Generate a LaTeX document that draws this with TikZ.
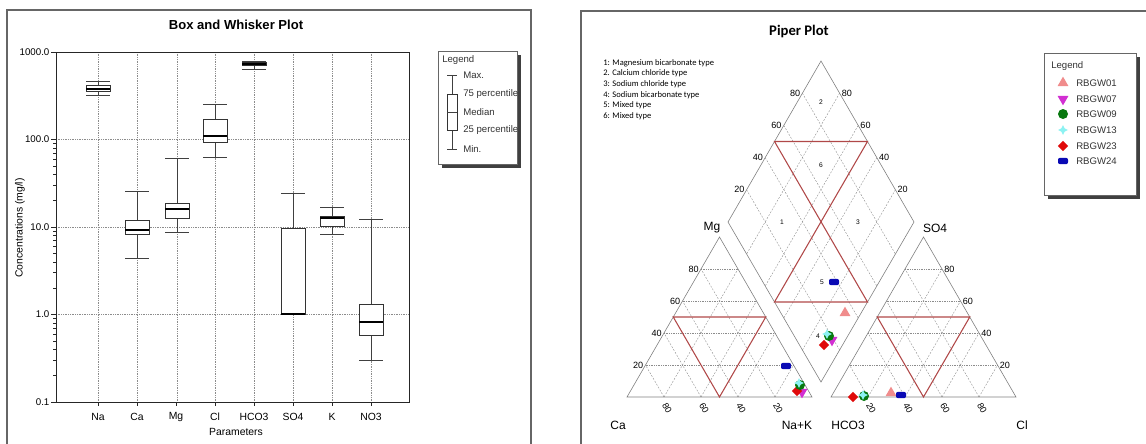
\documentclass[tikz,border=0pt]{standalone}
\usepackage{fontspec}
\setmainfont{Liberation Sans}
\newfontfamily\calib{Carlito}
\usetikzlibrary{calc,shapes.geometric}

\definecolor{piperred}{HTML}{B04848}
\definecolor{c01}{HTML}{F08C8C}
\definecolor{c07}{HTML}{D22FD2}
\definecolor{c09}{HTML}{08780F}
\definecolor{c13}{HTML}{8CF2F2}
\definecolor{c23}{HTML}{E00A0A}
\definecolor{c24}{HTML}{0A0AB4}

% x, max, q3, median, q1, min (pixel rows)
\newcommand{\bwbox}[6]{%
  \draw[whisk] (#1-12,#2) -- (#1+12,#2) (#1,#2) -- (#1,#3) (#1,#5) -- (#1,#6) (#1-12,#6) -- (#1+12,#6);
  \draw[bxs] (#1-12,#3) rectangle (#1+12,#5);
  \draw[med] (#1-12,#4) -- (#1+12,#4);}

\begin{document}
\begin{tikzpicture}[x=0.75pt,y=-0.75pt,
  panel/.style={draw=black!60,line width=1.1pt},
  grd/.style={draw=black!45,dash pattern=on 0.5pt off 0.8pt,line width=0.4pt},
  ax/.style={draw=black!85,line width=0.7pt},
  whisk/.style={draw=black!75,line width=0.6pt},
  bxs/.style={draw=black!80,fill=white,line width=0.6pt},
  med/.style={draw=black,line width=1.1pt},
  ticklbl/.style={font=\fontsize{7.3}{8}\selectfont,anchor=east,inner sep=1pt},
  catlbl/.style={font=\fontsize{7.8}{9}\selectfont},
  legtxt/.style={font=\fontsize{7.2}{8}\selectfont,anchor=west,inner sep=0pt,text=black!80},
  legshadow/.style={fill=black!75,draw=none},
  legbox/.style={draw=black!60,fill=white,line width=0.5pt},
  outl/.style={draw=black!50,line width=0.45pt},
  dgrid/.style={draw=black!45,dash pattern=on 1.4pt off 1.1pt,line width=0.3pt},
  hgrid/.style={draw=black!45,dash pattern=on 0.5pt off 0.8pt,line width=0.35pt},
  redl/.style={draw=piperred,line width=0.8pt},
  pct/.style={font=\fontsize{6.8}{7}\selectfont,inner sep=1.5pt},
  zone/.style={font=\fontsize{5}{6}\selectfont,inner sep=0pt},
  corner/.style={font=\fontsize{9}{10}\selectfont},
  note/.style={font=\calib\fontsize{6.4}{7}\selectfont,anchor=west,inner sep=0pt},
  mk/.style={inner sep=0pt,draw=none},
  s01/.style={mk,regular polygon,regular polygon sides=3,minimum size=9.5pt,fill=c01},
  s07/.style={mk,regular polygon,regular polygon sides=3,shape border rotate=180,minimum size=9.5pt,fill=c07},
  s09/.style={mk,circle,minimum size=7.5pt,fill=c09},
  s13/.style={mk,star,star points=4,star point ratio=2.2,minimum size=7.5pt,fill=c13},
  s23/.style={mk,diamond,minimum size=8pt,fill=c23},
  s24/.style={mk,rectangle,rounded corners=1.5pt,minimum width=7.5pt,minimum height=4.8pt,fill=c24}]

\useasboundingbox (0,0) rectangle (1146,443);
\clip (0,0) rectangle (1146,443);

% ---------------- box and whisker plot ----------------
\draw[panel] (7,10) rectangle (531,470);
\node[font=\bfseries\fontsize{9.8}{11}\selectfont] (bwtitle) at (236,25) {Box and Whisker Plot};

\foreach \cx in {98,137,177,215,254,293,332,371}
  \draw[grd] (\cx,52) -- (\cx,402);
\foreach \gy in {139,227,314}
  \draw[grd] (56,\gy) -- (409,\gy);
\draw[ax] (56,52) rectangle (409,402);

% log ticks
\foreach \d in {0,1,2}
  \foreach \m in {2,...,9}
    \draw[ax,line width=0.4pt] (56,{402-87.5*(\d+log10(\m))}) -- ++(-3,0);
\foreach \v [count=\i from 0] in {0.1,1.0,10.0,100.0,1000.0} {
  \draw[ax] (56,{402-87.5*\i}) -- ++(-5,0);
  \node[ticklbl] (yt\i) at (51,{402-87.5*\i}) {\v};
}
\foreach \nm [count=\i from 0] in {Na,Ca,Mg,Cl,HCO3,SO4,K,NO3} {
  \pgfmathsetmacro\cx{98+39.0*\i}
  \draw[ax,line width=0.5pt] (\cx,402) -- ++(0,4);
  \node[catlbl] (cat\i) at (\cx,417) {\nm};
}
\node[catlbl] (xlab) at (236,432) {Parameters};
\node[catlbl,rotate=90] (ylab) at (20,228) {Concentrations (mg/l)};

\bwbox{98}{81}{85}{89}{91}{95}
\bwbox{137}{191}{220}{230}{234}{258}
\bwbox{177}{158}{203}{209}{218}{232}
\bwbox{215}{104}{119}{136}{142}{157}
\bwbox{254}{61}{62}{64}{65}{69}
\bwbox{293}{193}{228}{314}{314}{314}
\bwbox{332}{207}{216}{218}{226}{234}
\bwbox{371}{219}{304}{322}{335}{360}

% legend
\fill[legshadow] (442,55) rectangle (521,168);
\draw[legbox] (438,51) rectangle (517,164);
\begin{scope}
  \clip (438,51) rectangle (517,164);
  \node[legtxt] (bwleg) at (442,60) {Legend};
  \draw[whisk] (447,75) -- (457,75) (452,75) -- (452,94) (452,130) -- (452,149) (447,149) -- (457,149);
  \draw[bxs] (447,94) rectangle (457,130);
  \draw[whisk] (447,112) -- (457,112);
  \foreach \t/\y in {Max./75,75 percentile/94,Median/112,25 percentile/130,Min./149}
    \node[legtxt] (bw\y) at (463,\y) {\t};
\end{scope}

% ---------------- piper plot ----------------
\draw[panel] (581,11) rectangle (1170,470);
\node[font=\calib\bfseries\fontsize{11}{12}\selectfont] (pptitle) at (799,32) {Piper Plot};
\foreach \t [count=\i] in {1: Magnesium bicarbonate type,2. Calcium chloride type,3: Sodium chloride type,4: Sodium bicarbonate type,5: Mixed type,6: Mixed type}
  \node[note] (note\i) at (603,{52.5+10.6*\i}) {\t};

\coordinate (dT) at (821,61);
\coordinate (dL) at (728,222);
\coordinate (dR) at (914,222);
\coordinate (dB) at (821,382);
\coordinate (ca) at (627,397);
\coordinate (nak) at (812,397);
\coordinate (mg) at (719.5,237);
\coordinate (hco) at (831,397);
\coordinate (cl) at (1016,397);
\coordinate (so) at (923.5,237);

\foreach \f/\v in {0.2/80,0.4/60,0.6/40,0.8/20} {
  \pgfmathsetmacro\g{1-\f}
  \draw[dgrid] ($(dT)!\f!(dL)$) -- ($(dR)!\f!(dB)$);
  \draw[dgrid] ($(dT)!\f!(dR)$) -- ($(dL)!\f!(dB)$);
  \draw[hgrid] ($(ca)!\f!(mg)$) -- ($(nak)!\f!(mg)$);
  \draw[dgrid] ($(ca)!\f!(nak)$) -- ($(nak)!\g!(mg)$);
  \draw[dgrid] ($(ca)!\f!(nak)$) -- ($(ca)!\f!(mg)$);
  \draw[hgrid] ($(hco)!\f!(so)$) -- ($(cl)!\f!(so)$);
  \draw[dgrid] ($(hco)!\f!(cl)$) -- ($(cl)!\g!(so)$);
  \draw[dgrid] ($(hco)!\f!(cl)$) -- ($(hco)!\f!(so)$);
  \node[pct,anchor=east] (dl\v) at ($(dT)!\f!(dL)$) {\v};
  \node[pct,anchor=west] (dr\v) at ($(dT)!\f!(dR)$) {\v};
  \node[pct,anchor=east] (mgl\v) at ($(ca)!\g!(mg)$) {\v};
  \node[pct,anchor=west] (sol\v) at ($(cl)!\g!(so)$) {\v};
  \node[pct,inner sep=0pt,rotate=-60] (cal\v) at ($(nak)!\g!(ca)+(3,11)$) {\v};
  \node[pct,inner sep=0pt,rotate=-60] (cll\v) at ($(hco)!\g!(cl)+(3,11)$) {\v};
}

\draw[outl] (dT) -- (dR) -- (dB) -- (dL) -- cycle;
\draw[outl] (ca) -- (nak) -- (mg) -- cycle;
\draw[outl] (hco) -- (cl) -- (so) -- cycle;

\draw[redl] ($(dT)!0.5!(dL)$) -- ($(dT)!0.5!(dR)$) -- ($(dL)!0.5!(dB)$) -- ($(dR)!0.5!(dB)$) -- cycle;
\draw[redl] ($(ca)!0.5!(mg)$) -- ($(nak)!0.5!(mg)$) -- ($(ca)!0.5!(nak)$) -- cycle;
\draw[redl] ($(hco)!0.5!(so)$) -- ($(cl)!0.5!(so)$) -- ($(hco)!0.5!(cl)$) -- cycle;

\node[zone] (z2) at (821,102) {2};
\node[zone] (z6) at (821,165) {6};
\node[zone] (z1) at (782,222) {1};
\node[zone] (z3) at (858,222) {3};
\node[zone] (z5) at (822,282) {5};
\node[zone] (z4) at (818,336) {4};

\node[corner] (lbmg) at (712,228) {Mg};
\node[corner] (lbso) at (935,228) {SO4};
\node[corner] (lbca) at (618,425) {Ca};
\node[corner] (lbnak) at (797,425) {Na+K};
\node[corner] (lbhco) at (848,425) {HCO3};
\node[corner] (lbcl) at (1022,425) {Cl};

% samples
\node[s24] (p24a) at (786,366) {};
\node[s07] (p07a) at (802,392) {};
\node[s23] (p23a) at (797,391) {};
\node[s09] (p09a) at (800,385) {};
\node[s13] (p13a) at (799,383) {};

\node[s24] (p24b) at (834,282) {};
\node[s01] (p01b) at (845,313) {};
\node[s07] (p07b) at (832,340) {};
\node[s23] (p23b) at (824,345) {};
\node[s09] (p09b) at (829,336) {};
\node[s13] (p13b) at (827,334) {};

\node[s23] (p23c) at (853,397) {};
\node[s09] (p09c) at (864,396) {};
\node[s13] (p13c) at (863,395) {};
\node[s01] (p01c) at (891,393) {};
\node[s24] (p24c) at (901,395) {};

% legend
\fill[legshadow] (1048,57) rectangle (1140,199);
\draw[legbox] (1044,53) rectangle (1136,195);
\node[legtxt] (ppleg) at (1051,66) {Legend};
\foreach \s/\t/\y in {s01/RBGW01/83,s07/RBGW07/99,s09/RBGW09/114,s13/RBGW13/130,s23/RBGW23/146,s24/RBGW24/161} {
  \node[\s] (lm\t) at (1063,\y) {};
  \node[legtxt] (lt\t) at (1076,\y) {\t};
}
\end{tikzpicture}
\end{document}
